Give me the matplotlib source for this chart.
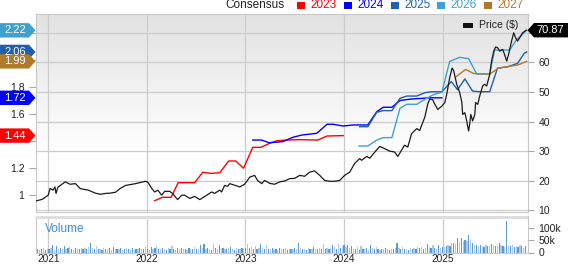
import numpy as np
import pandas as pd
import matplotlib
matplotlib.use('Agg')
import matplotlib.pyplot as plt
from matplotlib.patches import Polygon, Rectangle
from matplotlib.colors import LinearSegmentedColormap
from matplotlib.transforms import blended_transform_factory, IdentityTransform

plt.rcParams['font.family'] = ['Liberation Sans', 'DejaVu Sans']

# ---------------- data ----------------
price_dates = ['2020-11-14','2020-12-10','2021-01-01','2021-01-08','2021-01-19','2021-01-26','2021-01-30','2021-02-06','2021-02-21','2021-03-05','2021-03-16','2021-03-23','2021-04-12','2021-04-30','2021-05-30','2021-06-24','2021-07-13','2021-08-01','2021-08-19','2021-09-07','2021-09-25','2021-10-14','2021-11-20','2021-12-27',
               '2022-01-05','2022-01-19','2022-01-30','2022-02-11','2022-02-25','2022-03-08','2022-03-27','2022-04-07','2022-04-25','2022-05-10','2022-05-21','2022-06-09','2022-06-27','2022-07-16','2022-08-11','2022-08-29','2022-09-09','2022-09-28','2022-10-05','2022-10-16','2022-10-27','2022-11-04','2022-11-11','2022-12-11','2022-12-29',
               '2023-01-17','2023-02-04','2023-02-15','2023-03-02','2023-03-13','2023-04-01','2023-04-19','2023-05-08','2023-05-26','2023-06-14','2023-07-02','2023-07-21','2023-08-08','2023-08-27','2023-09-14','2023-10-03','2023-10-21','2023-11-09','2023-11-27','2023-12-16',
               '2024-01-03','2024-01-22','2024-02-09','2024-02-28','2024-03-06','2024-03-25','2024-04-05','2024-04-24','2024-05-12','2024-05-31','2024-06-18','2024-07-06','2024-07-18','2024-08-01','2024-08-12','2024-08-24','2024-09-07','2024-09-26','2024-10-07','2024-10-26','2024-11-06','2024-11-13','2024-11-24','2024-12-02','2024-12-13','2024-12-28',
               '2025-01-08','2025-01-15','2025-01-26','2025-02-04','2025-02-10','2025-02-21','2025-03-04','2025-03-12','2025-03-15','2025-03-23','2025-03-30','2025-04-06','2025-04-10','2025-04-14','2025-04-21','2025-04-29','2025-05-02','2025-05-10','2025-05-17','2025-05-28','2025-06-04','2025-06-12','2025-06-23','2025-06-30','2025-07-08','2025-07-15','2025-07-22','2025-07-30','2025-08-10','2025-08-17','2025-08-25','2025-09-01','2025-09-12','2025-09-20','2025-09-27','2025-10-04','2025-10-12','2025-10-23','2025-11-05']
price_values = [13.1, 13.7, 15.1, 17.4, 16.8, 17.9, 15.7, 17.8, 18.8, 19.6, 19.1, 18.8, 19.0, 17.3, 16.8, 15.8, 15.4, 15.7, 15.8, 16.1, 17.4, 18.4, 19.0, 19.8,
                19.5, 17.4, 16.2, 16.8, 15.1, 16.4, 16.4, 15.6, 13.6, 15.1, 15.1, 14.0, 14.7, 13.6, 15.1, 16.2, 15.7, 16.8, 16.2, 18.4, 18.1, 19.0, 18.8, 17.9, 18.8,
                21.2, 21.8, 20.1, 19.0, 20.1, 19.1, 18.8, 19.6, 19.9, 20.7, 20.8, 21.8, 21.5, 22.9, 23.3, 21.8, 20.1, 19.8, 19.8, 20.1,
                21.8, 22.9, 25.8, 27.5, 26.9, 28.2, 27.6, 29.7, 31.6, 30.8, 30.0, 29.7, 28.2, 30.3, 32.0, 31.4, 35.9, 37.6, 37.0, 41.5, 46.0, 47.6, 47.4, 45.8, 44.1, 45.2,
                46.4, 49.2, 54.8, 58.1, 57.1, 52.6, 49.8, 46.5, 42.4, 43.0, 40.2, 36.8, 39.1, 42.4, 40.2, 42.4, 46.4, 45.8, 48.6, 52.0, 52.6, 52.0, 55.9, 60.4, 63.8, 65.2, 65.0, 63.8, 64.4, 62.7, 60.4, 62.7, 67.2, 70.0, 68.3, 67.2, 68.3, 70.0, 70.87]

eps_2023_dates = ['2022-01-30','2022-02-28','2022-04-01','2022-04-27','2022-06-27','2022-07-27','2022-08-29','2022-09-28','2022-10-31','2022-11-26','2022-12-25','2023-01-28','2023-02-27','2023-04-01','2023-04-27','2023-06-03','2023-07-21','2023-09-26','2023-10-30','2023-12-29']
eps_2023 = [0.958, 0.983, 0.983, 1.091, 1.091, 1.168, 1.16, 1.165, 1.252, 1.252, 1.198, 1.353, 1.353, 1.383, 1.402, 1.407, 1.41, 1.407, 1.437, 1.44]

eps_2024_dates = ['2023-01-28','2023-03-02','2023-03-30','2023-05-19','2023-06-25','2023-07-28','2023-09-22','2023-10-30','2023-11-21','2023-12-29','2024-02-04','2024-03-29','2024-05-01','2024-05-25','2024-06-26','2024-07-26','2024-09-01','2024-10-07','2024-11-13','2024-12-28']
eps_2024 = [1.407, 1.407, 1.387, 1.395, 1.427, 1.444, 1.457, 1.524, 1.524, 1.511, 1.519, 1.519, 1.617, 1.65, 1.65, 1.70, 1.71, 1.715, 1.72, 1.72]

eps_2025_dates = ['2024-02-28','2024-03-29','2024-05-01','2024-05-25','2024-06-26','2024-07-26','2024-08-20','2024-09-26','2024-10-26','2024-11-20','2024-12-28','2025-02-01','2025-02-24','2025-03-23','2025-04-21','2025-05-17','2025-06-23','2025-07-22','2025-08-29','2025-10-04','2025-10-29','2025-11-07']
eps_2025 = [1.506, 1.506, 1.613, 1.625, 1.625, 1.716, 1.733, 1.733, 1.758, 1.765, 1.765, 1.84, 1.78, 1.86, 1.77, 1.765, 1.765, 1.94, 1.95, 1.975, 2.05, 2.06]

eps_2026_dates = ['2024-02-25','2024-03-29','2024-05-01','2024-05-25','2024-06-26','2024-07-26','2024-08-20','2024-09-26','2024-11-01','2024-12-02','2024-12-28','2025-01-26','2025-03-04','2025-04-06','2025-05-06','2025-06-23','2025-07-11','2025-09-05','2025-09-30','2025-11-07']
eps_2026 = [1.363, 1.363, 1.407, 1.425, 1.425, 1.642, 1.672, 1.672, 1.716, 1.748, 1.76, 1.99, 2.02, 2.01, 1.896, 1.896, 2.074, 2.074, 2.15, 2.22]

eps_2027_dates = ['2025-02-18','2025-03-26','2025-04-25','2025-06-23','2025-07-26','2025-09-09','2025-10-08','2025-11-07']
eps_2027 = [1.876, 1.93, 1.90, 1.896, 1.94, 1.955, 1.965, 1.99]

volume_start = '2020-11-16'   # weekly volume, thousands of shares
volume_k = ([12, 16, 10, 14, 18, 12, 15] +
            [14, 18, 30, 12, 28, 16, 20, 14, 25, 13, 18, 22, 15, 12, 19, 14, 16, 20, 13, 17, 15, 22, 38, 18, 14, 25,
             13, 16, 12, 19, 15, 13, 17, 12, 22, 14, 16, 13, 18, 12, 15, 20, 14, 13, 17, 12, 16, 14, 18, 13, 15, 24] +
            [16, 12, 22, 14, 18, 25, 15, 13, 20, 16, 12, 18, 14, 26, 15, 12, 17, 13, 20, 14, 16, 12, 18, 15, 14, 22,
             16, 13, 31, 18, 33, 14, 20, 16, 12, 33, 18, 15, 30, 14, 20, 16, 13, 18, 24, 15, 12, 20, 16, 14, 18, 13] +
            [20, 35, 18, 22, 16, 28, 14, 20, 35, 18, 15, 30, 16, 14, 20, 13, 16, 12, 18, 15, 13, 17, 12, 14, 16, 13,
             18, 15, 38, 20, 14, 16, 12, 18, 15, 13, 22, 14, 16, 18, 14, 35, 16, 20, 14, 18, 30, 22, 16, 33, 18, 24] +
            [30, 22, 32, 18, 26, 15, 14, 22, 12, 28, 16, 14, 18, 12, 30, 20, 14, 24, 15, 12, 16, 13, 18, 14, 12, 16, 15,
             20, 38, 18, 14, 22, 16, 15, 12, 18, 14, 20, 16, 24, 18, 22, 15, 20, 33, 22, 18, 30, 20, 16, 30, 18, 22] +
            [22, 28, 30, 26, 41, 40, 35, 60, 45, 61, 48, 50, 46, 72, 50, 38, 32, 30, 28, 30, 26, 24, 30, 26, 28, 36,
             32, 28, 26, 40, 30, 26, 22, 130, 32, 28, 30, 24, 28, 22, 30, 26, 20, 28])

year_labels = ['2021', '2022', '2023', '2024', '2025']
price_ticks = [10, 20, 30, 40, 50, 60, 70]
price_labels = ['10', '20', '30', '40', '50', '60', '']      # 70 hidden behind the price tag
eps_ticks = [1.0, 1.2, 1.4, 1.6, 1.8, 2.0, 2.2]
eps_labels = ['1', '1.2', '', '1.6', '1.8', '', '']          # others hidden behind tags
vol_ticks_k = [0, 50, 100]
series_names = ['2023', '2024', '2025', '2026', '2027']

# ---------------- style ----------------
C23, C24, C25, C26, C27 = '#ff0000', '#0000ff', '#1f5fae', '#3fa1d2', '#b07a2c'
GRID = '#cccccc'
W, H = 568, 264

fig = plt.figure(figsize=(W / 100, H / 100), dpi=100)
fig.patch.set_facecolor('white')

L, R = 35.5, 527.5
top_p, bot_p = 14, 212
top_v, bot_v = 216, 252.5
rect_p = [L / W, 1 - bot_p / H, (R - L) / W, (bot_p - top_p) / H]
ax_e = fig.add_axes(rect_p)
ax_p = fig.add_axes(rect_p, sharex=ax_e, facecolor='none')
ax_v = fig.add_axes([L / W, 1 - bot_v / H, (R - L) / W, (bot_v - top_v) / H], sharex=ax_e)

to_dt = pd.to_datetime
xmin, xmax = to_dt('2020-11-15'), to_dt('2025-11-10')
ax_e.set_xlim(xmin, xmax)
ax_e.set_ylim(0.874, 2.341)
ax_p.set_ylim(9.42, 76.35)

# background gradient
cmap = LinearSegmentedColormap.from_list('bg', [(0, '#ffffff'), (0.3, '#ffffff'), (1.0, '#e2e2e2')])
grad = np.linspace(0, 1, 256)[:, None]
ax_e.imshow(grad, cmap=cmap, origin='lower', extent=[0, 1, 0, 1], transform=ax_e.transAxes,
            aspect='auto', zorder=0)

# gridlines (horizontal at price ticks)
trans = blended_transform_factory(ax_e.transAxes, ax_p.transData)
for v in price_ticks:
    ax_e.plot([0, 1], [v, v], transform=trans, color=GRID, lw=0.9, zorder=1)
year_dates = [to_dt(y + '-01-01') for y in year_labels]
for d in year_dates:
    ax_e.axvline(d, color=GRID, lw=0.9, zorder=1)
    ax_v.axvline(d, color=GRID, lw=0.9, zorder=0)

# EPS lines
for dts, vals, c in [(eps_2023_dates, eps_2023, C23), (eps_2024_dates, eps_2024, C24),
                     (eps_2025_dates, eps_2025, C25), (eps_2026_dates, eps_2026, C26),
                     (eps_2027_dates, eps_2027, C27)]:
    ax_e.plot(to_dt(dts), vals, color=c, lw=1.0, zorder=3)

# price line
ax_p.plot(to_dt(price_dates), price_values, color='#1a1a1a', lw=0.9, zorder=4)

# axes styling
for ax in (ax_e, ax_p, ax_v):
    ax.tick_params(axis='x', length=0, labelbottom=False)
for s in ax_e.spines.values():
    s.set_color('#c8c8c8'); s.set_linewidth(0.8)
for s in ax_p.spines.values():
    s.set_visible(False)

ax_e.yaxis.tick_left()
ax_e.set_yticks(eps_ticks)
ax_e.set_yticklabels(eps_labels)
ax_e.tick_params(axis='y', length=5, width=0.8, color='#aaaaaa', pad=3, labelsize=7.5, labelcolor='#222222')

ax_p.yaxis.tick_right()
ax_p.set_yticks(price_ticks)
ax_p.set_yticklabels(price_labels)
ax_p.tick_params(axis='y', length=4, width=0.8, color='#aaaaaa', pad=4, labelsize=7.5, labelcolor='#222222')

# volume
vol_dates = pd.date_range(volume_start, periods=len(volume_k), freq='7D')
vol_colors = ['#a9cbea' if i % 2 == 0 else '#5b9bd5' for i in range(len(volume_k))]
ax_v.bar(vol_dates, np.array(volume_k) * 1000, width=4.5, color=vol_colors, lw=0, zorder=2)
ax_v.set_ylim(0, 150000)
ax_v.yaxis.tick_right()
ax_v.set_yticks([v * 1000 for v in vol_ticks_k])
ax_v.set_yticklabels(['0' if v == 0 else f'{v}k' for v in vol_ticks_k])
ax_v.tick_params(axis='y', length=4, width=0.8, color='#aaaaaa', pad=4, labelsize=7.5, labelcolor='#222222')
ax_v.set_xticks(year_dates)
ax_v.set_xticklabels(year_labels)
ax_v.tick_params(axis='x', length=0, pad=1, labelsize=7.3, labelcolor='#222222', labelbottom=True)
ax_v.spines['top'].set_visible(False)
for k in ('left', 'right', 'bottom'):
    ax_v.spines[k].set_color('#c8c8c8'); ax_v.spines[k].set_linewidth(0.8)
ax_v.add_patch(Rectangle((0, 1 - 2.6 / (bot_v - top_v)), 1, 2.6 / (bot_v - top_v),
                         transform=ax_v.transAxes, color='#dedede', lw=0, zorder=5, clip_on=False))
fig.text(45 / W, 1 - 229 / H, 'Volume', color='#3d8fd0', fontsize=8.5, va='center', ha='left')

# top legend
fig.text(225 / W, 1 - 5.5 / H, 'Consensus', fontsize=8.5, color='#222222', va='center', ha='left')
leg_x = [297, 344, 391, 437, 484]
for x0, name, c in zip(leg_x, series_names, [C23, C24, C25, C26, C27]):
    fig.add_artist(Rectangle((x0 / W, 1 - 8.5 / H), 7.5 / W, 7 / H, transform=fig.transFigure,
                             color=c, lw=0))
    fig.text((x0 + 13) / W, 1 - 5.5 / H, name, fontsize=8.5, color=c, va='center', ha='left')

# price legend
fig.add_artist(Rectangle((463 / W, 1 - 28 / H), 10 / W, 4.5 / H, transform=fig.transFigure,
                         color='#111111', lw=0))
fig.text(479 / W, 1 - 25.5 / H, 'Price ($)', fontsize=7.5, color='#222222', va='center', ha='left')

# value tags
def left_tag(val, color):
    yc = ax_e.transData.transform((ax_e.get_xlim()[0], val))[1]
    h = 7.2
    pts = [(0, yc - h), (29, yc - h), (35.5, yc), (29, yc + h), (0, yc + h)]
    fig.add_artist(Polygon(pts, closed=True, transform=IdentityTransform(), facecolor=color,
                           edgecolor='none', zorder=10))
    fig.text(15 / W, yc / H, f'{val:.2f}', color='white', fontsize=8, ha='center', va='center', zorder=11)

def right_tag(val, color):
    yc = ax_p.transData.transform((ax_p.get_xlim()[0], val))[1]
    h = 7.2
    pts = [(527.5, yc), (534, yc + h), (568, yc + h), (568, yc - h), (534, yc - h)]
    fig.add_artist(Polygon(pts, closed=True, transform=IdentityTransform(), facecolor=color,
                           edgecolor='none', zorder=10))
    fig.text(550 / W, yc / H, f'{val:.2f}', color='white', fontsize=8, ha='center', va='center', zorder=11)

left_tag(eps_2026[-1], C26)
left_tag(eps_2025[-1], C25)
left_tag(eps_2027[-1], C27)
left_tag(eps_2024[-1], C24)
left_tag(eps_2023[-1], C23)
right_tag(price_values[-1], '#000000')

fig.savefig('out.png', dpi=100, facecolor='white')
